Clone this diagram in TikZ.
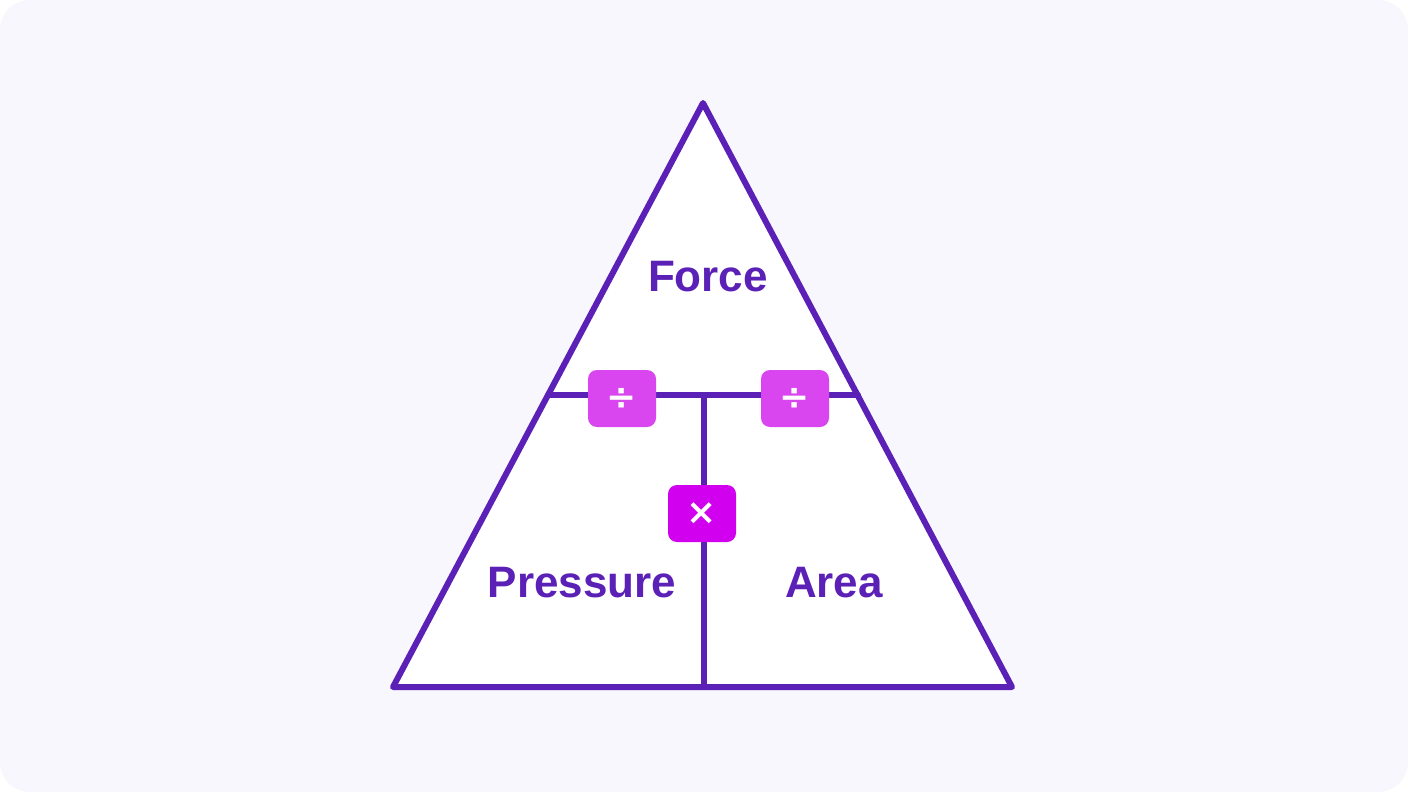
\documentclass[tikz,border=0pt]{standalone}
\usepackage{fontspec}
\setmainfont{Liberation Sans}
\newfontfamily\symfont{DejaVu Sans}
\begin{document}
\definecolor{bg}{HTML}{F8F7FD}
\definecolor{ln}{HTML}{5B21B6}
\definecolor{divc}{HTML}{D946EF}
\definecolor{mulc}{HTML}{D100EE}
\begin{tikzpicture}[x=1pt,y=-1pt,
  edge/.style={draw=ln,line width=6pt,line join=round,line cap=round},
  opbox/.style={rounded corners=9pt,minimum width=68pt,minimum height=57pt,inner sep=0pt,text=white,font=\symfont\bfseries\fontsize{36}{36}\selectfont},
  lbl/.style={text=ln,font=\bfseries\fontsize{44}{44}\selectfont,inner sep=0pt}]
\useasboundingbox (0,0) rectangle (1408,792);
\fill[white] (0,0) rectangle (1408,792);
\fill[bg,rounded corners=30pt] (0,0) rectangle (1408,792);
\coordinate (T) at (703,103);
\coordinate (BL) at (393,687);
\coordinate (BR) at (1012,687);
\coordinate (HL) at (548,395);
\coordinate (HR) at (858,395);
\coordinate (VT) at (704,395);
\coordinate (VB) at (704,687);
\fill[white] (T) -- (BL) -- (BR) -- cycle;
\draw[edge] (HL) -- (HR);
\draw[edge] (VT) -- (VB);
\draw[edge] (T) -- (BL) -- (BR) -- cycle;
\node[opbox,fill=divc] (d1) at (622,398.5) {÷};
\node[opbox,fill=divc] (d2) at (795,398.5) {÷};
\node[opbox,fill=mulc] (m) at (702,513.5) {×};
\node[lbl] (force) at (708,277) {Force};
\node[lbl] (pressure) at (582,583) {Pressure};
\node[lbl] (area) at (834,583) {Area};
\end{tikzpicture}
\end{document}
